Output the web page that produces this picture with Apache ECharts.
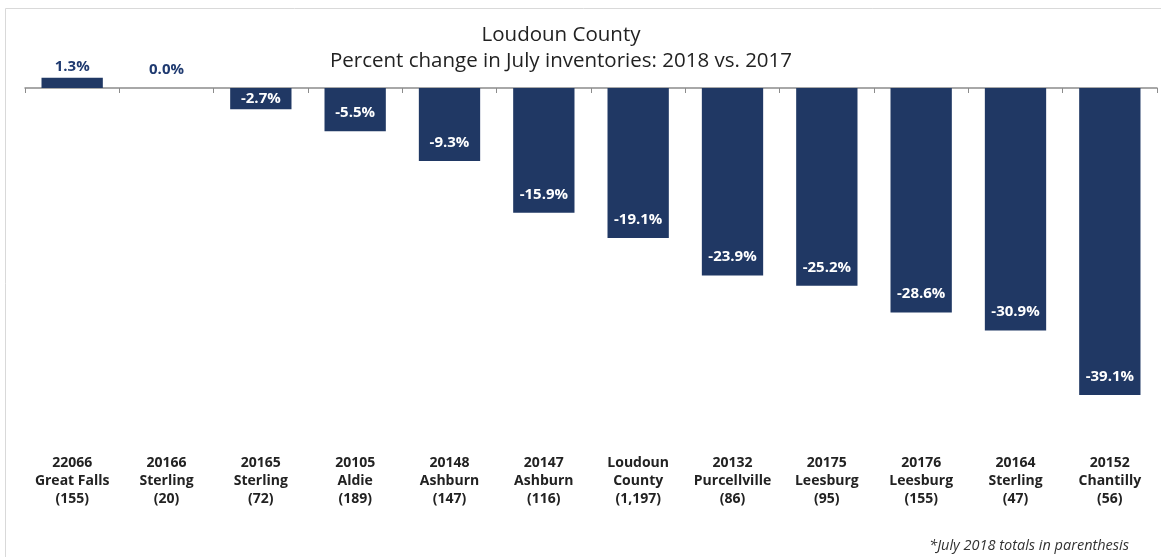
<!DOCTYPE html>
<html>
<head>
<meta charset="utf-8">
<script src="https://cdn.jsdelivr.net/npm/echarts@6/dist/echarts.min.js"></script>
<style>
  html, body { margin: 0; padding: 0; background: #fff; }
  #chart { width: 1161px; height: 557px; }
</style>
</head>
<body>
<div id="chart"></div>
<script>
// ZIP codes, areas and July 2018 inventory totals
const zips = ['22066', '20166', '20165', '20105', '20148', '20147', 'Loudoun', '20132', '20175', '20176', '20164', '20152'];
const places = ['Great Falls', 'Sterling', 'Sterling', 'Aldie', 'Ashburn', 'Ashburn', 'County', 'Purcellville', 'Leesburg', 'Leesburg', 'Sterling', 'Chantilly'];
const totals = ['155', '20', '72', '189', '147', '116', '1,197', '86', '95', '155', '47', '56'];
// Percent change in July inventories, 2018 vs. 2017
const pctChange = [1.3, 0.0, -2.7, -5.5, -9.3, -15.9, -19.1, -23.9, -25.2, -28.6, -30.9, -39.1];

const categories = zips.map((z, i) => z + '\n' + places[i] + '\n(' + totals[i] + ')');

const FONT = '"Open Sans", Lato, sans-serif';
const NAVY = '#203864';

// label placement: above positive bars, near the end of negative bars,
// centred when the bar is too short to hold the text above its end
function labelFor(v) {
  if (v > 0) return { position: 'top', distance: 4, color: '#1f3a70' };
  if (v === 0) return { position: 'top', distance: 11, color: '#1f3a70' };
  if (v > -4) return { position: 'inside', color: '#fff' };
  return { position: 'insideBottom', distance: 11, color: '#fff' };
}

const chart = echarts.init(document.getElementById('chart'));
chart.setOption({
  animation: false,
  textStyle: { fontFamily: FONT },
  title: {
    text: 'Loudoun County\nPercent change in July inventories: 2018 vs. 2017',
    left: 556,
    textAlign: 'center',
    top: 17,
    textStyle: { fontFamily: FONT, fontSize: 20.5, fontWeight: 'normal', color: '#222', lineHeight: 26 }
  },
  graphic: [
    {
      type: 'rect',
      shape: { x: 5.5, y: 8.5, width: 1170, height: 560 },
      style: { fill: 'none', stroke: '#d9d9d9', lineWidth: 1 },
      silent: true
    },
    {
      type: 'text',
      right: 32,
      top: 538,
      style: {
        text: '*July 2018 totals in parenthesis',
        font: 'italic 14.5px ' + FONT,
        fill: '#333'
      }
    }
  ],
  grid: { left: 25, right: 4, top: 9.5, height: 392.5, containLabel: false },
  xAxis: [
    {
      type: 'category',
      data: categories,
      axisLine: { onZero: true, lineStyle: { color: '#8c8c8c', width: 1.5 } },
      axisTick: { show: true, length: 5, lineStyle: { color: '#8c8c8c' } },
      axisLabel: { show: false }
    },
    {
      type: 'category',
      data: categories,
      position: 'bottom',
      offset: 0,
      axisLine: { show: false },
      axisTick: { show: false },
      axisLabel: {
        margin: 52,
        interval: 0,
        fontFamily: FONT,
        fontSize: 14,
        fontWeight: 'bold',
        color: '#222',
        lineHeight: 18
      }
    }
  ],
  yAxis: {
    type: 'value',
    min: -40,
    max: 10,
    show: false,
    splitLine: { show: false }
  },
  series: [
    {
      type: 'bar',
      data: pctChange.map(v => ({ value: v, label: labelFor(v) })),
      barWidth: '65%',
      itemStyle: { color: NAVY },
      label: {
        show: true,
        fontFamily: FONT,
        fontSize: 15,
        fontWeight: 'bold',
        formatter: p => p.value.toFixed(1) + '%'
      }
    }
  ]
});
</script>
</body>
</html>
